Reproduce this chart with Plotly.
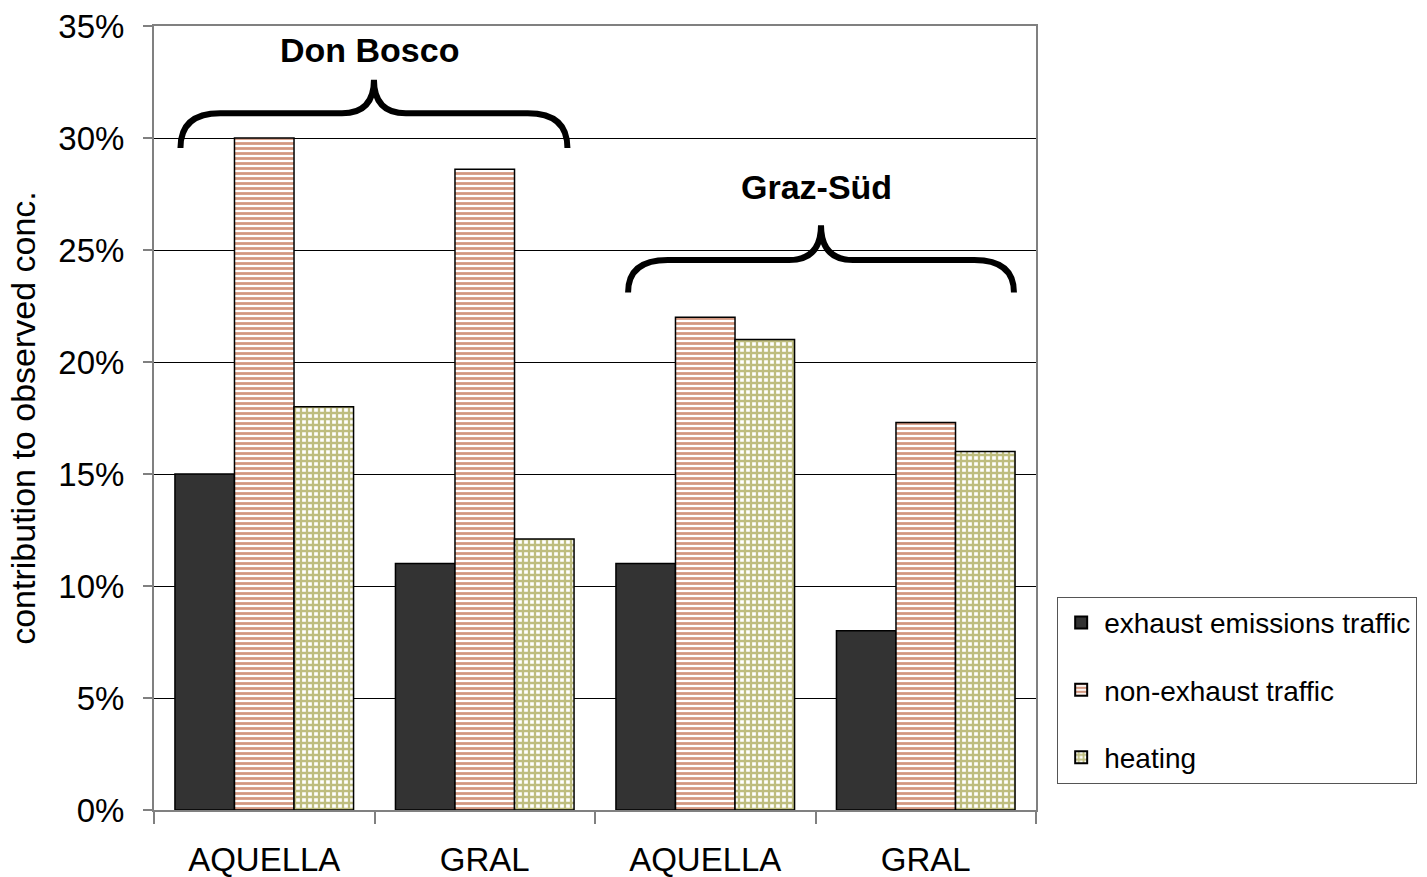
import plotly.graph_objects as go

# Source-apportionment results (% contribution to observed concentration)
models = ["AQUELLA", "GRAL", "AQUELLA", "GRAL"]
sites = ["Don Bosco", "Graz-Süd"]
exhaust = [15.0, 11.0, 11.0, 8.0]
non_exhaust = [30.0, 28.6, 22.0, 17.3]
heating = [18.0, 12.1, 21.0, 16.0]
y_ticks = [0, 5, 10, 15, 20, 25, 30, 35]

xpos = list(range(len(models)))
FONT = "Liberation Sans, Arial, sans-serif"

fig = go.Figure()
fig.add_bar(
    x=xpos, y=exhaust, name="exhaust emissions traffic", legendgroup="a",
    marker=dict(color="#333333", line=dict(color="#000000", width=1.5)),
)
fig.add_bar(
    x=xpos, y=non_exhaust, name="non-exhaust traffic", legendgroup="b",
    marker=dict(
        color="white", line=dict(color="#000000", width=1.5),
        pattern=dict(shape="-", fgcolor="#a83000", bgcolor="white", size=5, solidity=0.55),
    ),
)
fig.add_bar(
    x=xpos, y=heating, name="heating", legendgroup="c",
    marker=dict(
        color="white", line=dict(color="#000000", width=1.5),
        pattern=dict(shape="+", fgcolor="#7e7c00", bgcolor="white", size=6, solidity=0.62),
    ),
)


def brace(x0, x1, y_tip, y_flat, y_peak, rx=0.18, rpx=0.145):
    """Curly brace path (opening downward) in data coordinates."""
    xc = (x0 + x1) / 2
    return (
        f"M {x0},{y_tip} Q {x0},{y_flat} {x0 + rx},{y_flat} "
        f"L {xc - rpx},{y_flat} Q {xc},{y_flat} {xc},{y_peak} "
        f"Q {xc},{y_flat} {xc + rpx},{y_flat} "
        f"L {x1 - rx},{y_flat} Q {x1},{y_flat} {x1},{y_tip}"
    )


# one brace per measuring site, spanning its two model groups
brace_spans = [(-0.38, 1.375), (1.65, 3.40)]
brace_levels = [(29.55, 31.1, 32.6, 33.95), (23.1, 24.55, 26.1, 27.8)]
for (x0, x1), (yt, yf, yp, ylab), name in zip(brace_spans, brace_levels, sites):
    fig.add_shape(
        type="path", path=brace(x0, x1, yt, yf, yp), xref="x", yref="y",
        line=dict(color="black", width=6), layer="above",
    )
    fig.add_annotation(
        x=(x0 + x1) / 2 - 0.02, y=ylab, xref="x", yref="y", text=f"<b>{name}</b>",
        showarrow=False, font=dict(family=FONT, size=34, color="black"),
    )

fig.update_layout(
    width=1427, height=877,
    margin=dict(l=154, r=391, t=26, b=67, autoexpand=False),
    paper_bgcolor="white", plot_bgcolor="white",
    barmode="group", bargap=0.19, bargroupgap=0,
    font=dict(family=FONT, color="black"),
    showlegend=True,
    legend=dict(
        x=1.024, y=0.272, xanchor="left", yanchor="top",
        font=dict(family=FONT, size=28, color="black"),
        bordercolor="#555555", borderwidth=1, bgcolor="white",
        tracegroupgap=28, itemsizing="constant", itemwidth=36,
    ),
)
fig.update_xaxes(
    range=[-0.5, 3.5], tickmode="array", tickvals=xpos, ticktext=models,
    ticks="", ticklabelstandoff=19, tickfont=dict(family=FONT, size=33),
    showline=True, linecolor="#808080", linewidth=2, mirror=True,
    showgrid=False, zeroline=False, automargin=False,
    minor=dict(tickmode="array", tickvals=[-0.5, 0.5, 1.5, 2.5, 3.5],
               ticks="outside", ticklen=12, tickwidth=2, tickcolor="#808080", showgrid=False),
)
fig.update_yaxes(
    range=[0, 35], tickmode="array", tickvals=y_ticks,
    ticktext=[f"{v}%" for v in y_ticks],
    ticks="outside", ticklen=9, tickwidth=2, tickcolor="#808080",
    ticklabelstandoff=12, tickfont=dict(family=FONT, size=33),
    showline=True, linecolor="#808080", linewidth=2, mirror=True,
    showgrid=True, gridcolor="black", gridwidth=1, zeroline=False, automargin=False,
    title=dict(text="contribution to observed conc.", standoff=12,
               font=dict(family=FONT, size=34)),
)

fig.write_html("out.html")
